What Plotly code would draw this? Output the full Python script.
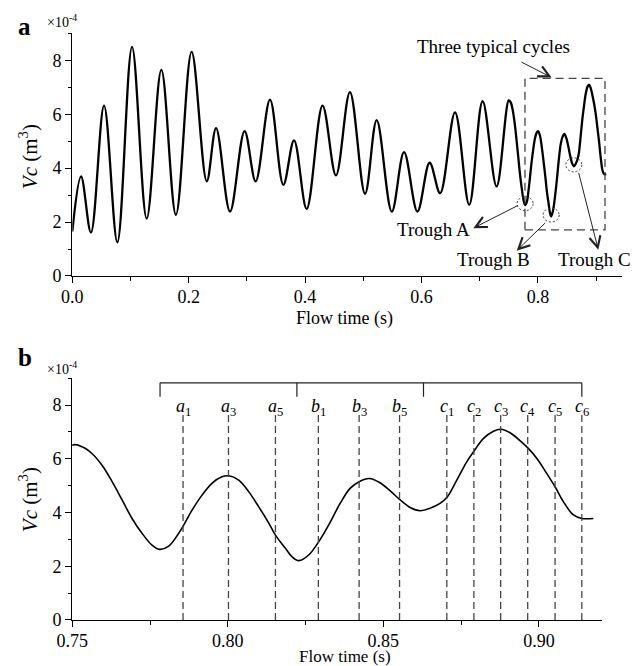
import plotly.graph_objects as go

# ---------------- data (Vc in units of 1e-4 m^3) ----------------
flow_time = [
    0.000, 0.015, 0.032, 0.0545, 0.0774, 0.1026, 0.1278, 0.153, 0.178, 0.205,
    0.231, 0.247, 0.271, 0.296, 0.315, 0.3397, 0.3626, 0.381, 0.4027, 0.430,
    0.453, 0.477, 0.503, 0.523, 0.549, 0.570, 0.593, 0.614, 0.632, 0.6576,
    0.682, 0.705, 0.729,
    0.7499, 0.7531, 0.7563, 0.7595, 0.7628, 0.7660, 0.7692, 0.7724, 0.7756,
    0.7780, 0.7810, 0.7842, 0.7858, 0.7885, 0.7917, 0.7949, 0.7981, 0.8003,
    0.8035, 0.8067, 0.8099, 0.8132, 0.8153, 0.8185, 0.8206, 0.8228, 0.8260,
    0.8292, 0.8324, 0.8361, 0.8393, 0.8422, 0.8455, 0.8489, 0.8522, 0.8554,
    0.8586, 0.8618, 0.8650, 0.8682, 0.8704, 0.8736, 0.8768, 0.8792, 0.8822,
    0.8854, 0.8878, 0.8907, 0.8940, 0.8966, 0.8993, 0.9025, 0.9052, 0.9079,
    0.9111, 0.9138, 0.9175,
]
vc = [
    1.65, 3.69, 1.61, 6.32, 1.25, 8.50, 2.13, 7.64, 2.27, 8.31,
    3.51, 5.48, 2.39, 5.37, 3.51, 6.54, 3.38, 5.03, 2.49, 6.32,
    3.73, 6.82, 3.05, 5.78, 2.39, 4.59, 2.39, 4.20, 3.07, 6.07,
    2.64, 6.48, 3.32,
    6.51, 6.45, 6.20, 5.77, 5.15, 4.47, 3.78, 3.23, 2.79,
    2.63, 2.75, 3.23, 3.53, 4.09, 4.65, 5.09, 5.33, 5.37,
    5.21, 4.78, 4.22, 3.60, 3.16, 2.67, 2.36, 2.21, 2.42,
    2.91, 3.53, 4.34, 4.90, 5.15, 5.27, 5.11, 4.81, 4.47,
    4.19, 4.07, 4.16, 4.34, 4.56, 5.21, 5.89, 6.30, 6.76,
    7.03, 7.10, 6.97, 6.67, 6.39, 6.02, 5.46, 4.96, 4.40,
    3.91, 3.78, 3.78,
]

# troughs A, B, C (time, value)
trough_names = ["Trough A", "Trough B", "Trough C"]
trough_t = [0.7780, 0.8228, 0.8618]
trough_v = [2.63, 2.21, 4.07]

# characteristic instants in panel b
instant_names = ["a", "a", "a", "b", "b", "b", "c", "c", "c", "c", "c", "c"]
instant_idx = [1, 3, 5, 1, 3, 5, 1, 2, 3, 4, 5, 6]
instant_t = [0.7856, 0.8002, 0.8153, 0.8291, 0.8422, 0.8552,
             0.8704, 0.8791, 0.8877, 0.8964, 0.9052, 0.9138]

cycle_names = ["Cycle A", "Cycle B", "Cycle C"]
cycle_bounds = [0.7782, 0.8222, 0.8629, 0.9138]

FONT = "Liberation Serif"

fig = go.Figure()
fig.add_trace(go.Scatter(x=flow_time, y=vc, mode="lines",
                         line=dict(color="black", width=2.3, shape="spline"),
                         xaxis="x", yaxis="y", showlegend=False, hoverinfo="skip"))
fig.add_trace(go.Scatter(x=flow_time, y=vc, mode="lines",
                         line=dict(color="black", width=1.6, shape="spline"),
                         xaxis="x2", yaxis="y2", showlegend=False, hoverinfo="skip"))


def axis_common():
    return dict(showline=True, linecolor="black", linewidth=1.3,
                ticks="outside", ticklen=6, tickwidth=1.3, tickcolor="black",
                showgrid=False, zeroline=False, mirror=False, automargin=False,
                tickfont=dict(family=FONT, size=18, color="black"))


xa = axis_common()
xa.update(domain=[0.113, 0.9714], range=[0, 0.944], tick0=0, dtick=0.2,
          tickformat=".1f", anchor="y", ticklabelstandoff=-2,
          minor=dict(ticks="outside", ticklen=3.5, tickwidth=1.3,
                     tickcolor="black", dtick=0.1, tick0=0))
ya = axis_common()
ya.update(domain=[0.5856, 0.95], range=[0, 9], tick0=0, dtick=2, anchor="x",
          minor=dict(ticks="outside", ticklen=3.5, tickwidth=1.3,
                     tickcolor="black", dtick=1, tick0=0))
xb = axis_common()
xb.update(domain=[0.113, 0.9402], range=[0.75, 0.9202], tick0=0.75, dtick=0.05,
          tickformat=".2f", anchor="y2", ticklabelstandoff=-2,
          minor=dict(ticks="outside", ticklen=3.5, tickwidth=1.3,
                     tickcolor="black", dtick=0.025, tick0=0.75))
yb = axis_common()
yb.update(domain=[0.0691, 0.432], range=[0, 9], tick0=0, dtick=2, anchor="x2",
          minor=dict(ticks="outside", ticklen=3.5, tickwidth=1.3,
                     tickcolor="black", dtick=1, tick0=0))

fig.update_layout(
    width=640, height=666, margin=dict(l=0, r=0, t=0, b=0, autoexpand=False),
    paper_bgcolor="white", plot_bgcolor="white",
    font=dict(family=FONT, size=18, color="black"),
    xaxis=xa, yaxis=ya, xaxis2=xb, yaxis2=yb, showlegend=False,
)

shapes = []
ann = []


def text(x, y, s, size=19, xref="paper", yref="paper", **kw):
    d = dict(xref=xref, yref=yref, x=x, y=y, text=s, showarrow=False,
             xanchor="center", yanchor="middle", font=dict(size=size))
    d.update(kw)
    ann.append(d)


def arrow(head, tail, xref="x", yref="y"):
    ann.append(dict(xref=xref, yref=yref, x=head[0], y=head[1],
                    ax=tail[0], ay=tail[1], axref=xref, ayref=yref,
                    text="", showarrow=True, arrowhead=5, arrowsize=2.2,
                    arrowwidth=1, arrowcolor="#222", standoff=0, startstandoff=0))


# ---------- panel a decorations ----------
shapes.append(dict(type="rect", xref="x", yref="y", x0=0.7778, x1=0.9153,
                   y0=1.71, y1=7.33, line=dict(color="#444", width=1.3, dash="8px,5px")))
text(0.7234, 8.52, "Three typical cycles", xref="x", yref="y")
arrow((0.8237, 7.36), (0.7692, 7.96))

label_pos = [(0.6203, 1.74), (0.7234, 0.62), (0.898, 0.62)]
arrow_head = [(0.689, 1.775), (0.7636, 0.94), (0.9038, 0.97)]
arrow_tail = [(0.768, 2.64), (0.8151, 2.02), (0.8694, 3.88)]
for i in range(3):
    shapes.append(dict(type="circle", xref="x", yref="y",
                       xsizemode="pixel", ysizemode="pixel",
                       xanchor=trough_t[i], yanchor=trough_v[i] + 0.05,
                       x0=-8, x1=8, y0=-7, y1=7,
                       line=dict(color="#333", width=1, dash="2px,2px")))
    text(label_pos[i][0], label_pos[i][1], trough_names[i], xref="x", yref="y")
    arrow(arrow_head[i], arrow_tail[i])

# ---------- panel b decorations ----------
for i, t in enumerate(instant_t):
    shapes.append(dict(type="line", xref="x2", yref="y2", x0=t, x1=t, y0=0, y1=7.63,
                       line=dict(color="#444", width=1.3, dash="7px,4px")))
    text(t, 7.93, "<i>%s</i><sub>%d</sub>" % (instant_names[i], instant_idx[i]),
         size=18, xref="x2", yref="y2")

shapes.append(dict(type="line", xref="x2", yref="y2", x0=cycle_bounds[0],
                   x1=cycle_bounds[-1], y0=8.83, y1=8.83,
                   line=dict(color="#222", width=1.2)))
for b in cycle_bounds:
    shapes.append(dict(type="line", xref="x2", yref="y2", x0=b, x1=b, y0=8.83, y1=8.31,
                       line=dict(color="#222", width=1.2)))
for i, name in enumerate(cycle_names):
    text((cycle_bounds[i] + cycle_bounds[i + 1]) / 2, 9.3, name, xref="x2", yref="y2")

# ---------- labels in paper coords ----------
for yc_mult, yc_title, yc_letter, letter, xt, ts in [
        (0.9685, 0.764, 0.9595, "a", 0.5225, 18),
        (0.4474, 0.249, 0.4625, "b", 0.0150, 17)]:
    text(0.097, yc_mult, "×10<sup>-4</sup>", size=14)
    text(0.04375, yc_title, "<i>Vc</i> (m<sup>3</sup>)", size=21, textangle=-90)
    text(0.039, yc_letter, "<b>%s</b>" % letter, size=25)
    text(0.539, xt, "Flow time (s)", size=ts)

fig.update_layout(shapes=shapes, annotations=ann)
fig.write_html("out.html")
